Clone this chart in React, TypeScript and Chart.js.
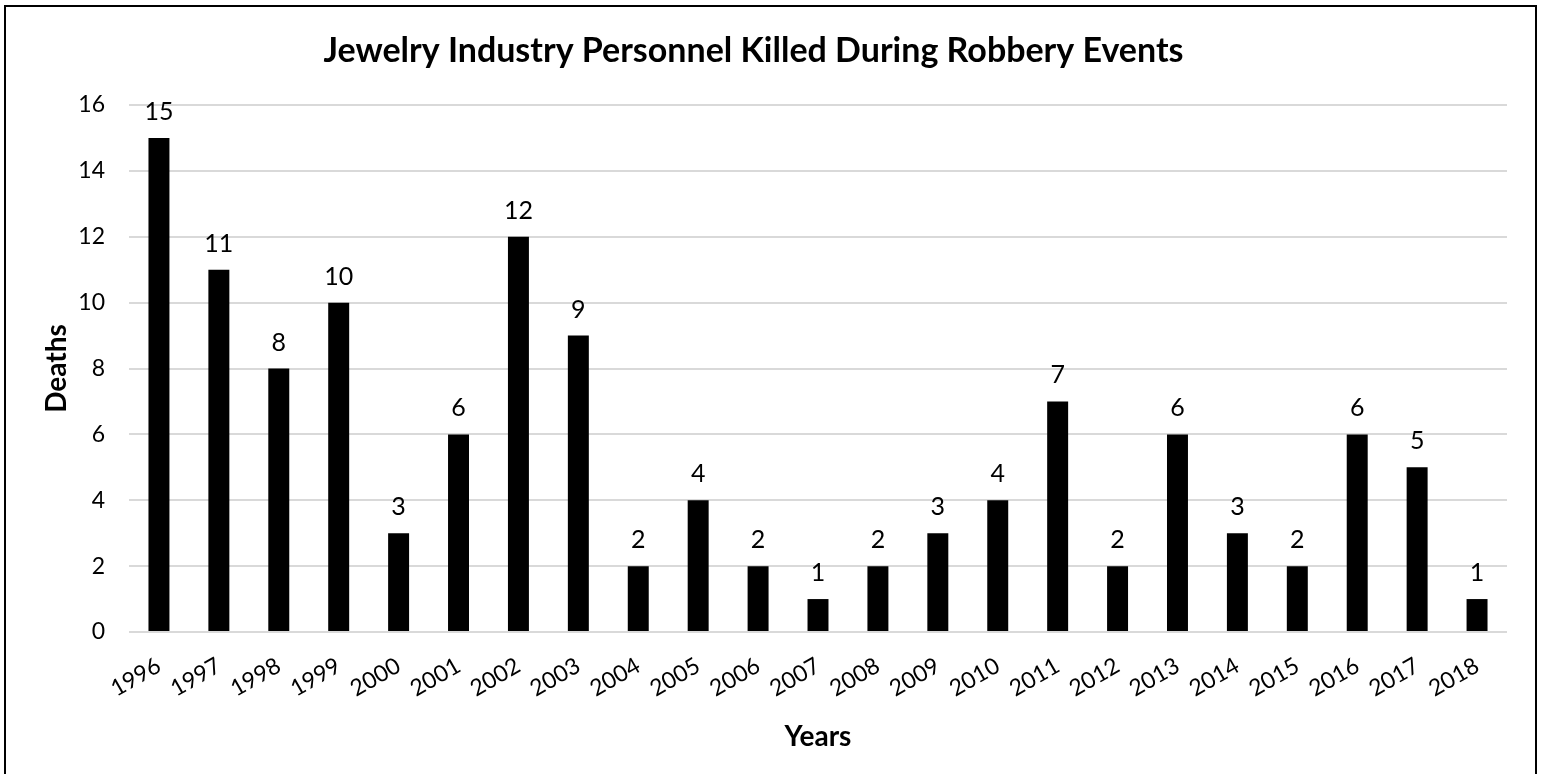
import React, { useEffect, useRef } from "react";
import { Chart, registerables } from "chart.js";

Chart.register(...registerables);

// Annual deaths of jewelry industry personnel in robbery events
const years = [
  "1996", "1997", "1998", "1999", "2000", "2001", "2002", "2003", "2004", "2005", "2006", "2007",
  "2008", "2009", "2010", "2011", "2012", "2013", "2014", "2015", "2016", "2017", "2018",
];
const deaths = [15, 11, 8, 10, 3, 6, 12, 9, 2, 4, 2, 1, 2, 3, 4, 7, 2, 6, 3, 2, 6, 5, 1];

const yMin = 0;
const yMax = 16;
const yStep = 2;

const FONT = "Lato, 'Open Sans', sans-serif";

// Writes each bar's value above it
const valueLabels = {
  id: "valueLabels",
  afterDatasetsDraw(chart: any) {
    const { ctx } = chart;
    const meta = chart.getDatasetMeta(0);
    const values = chart.data.datasets[0].data as number[];
    ctx.save();
    ctx.font = `25px ${FONT}`;
    ctx.fillStyle = "#000";
    ctx.textAlign = "center";
    ctx.textBaseline = "alphabetic";
    meta.data.forEach((bar: any, i: number) => {
      ctx.fillText(String(values[i]), bar.x, bar.y - 18);
    });
    ctx.restore();
  },
};

export default function App() {
  const canvasRef = useRef<HTMLCanvasElement | null>(null);

  useEffect(() => {
    const canvas = canvasRef.current;
    if (!canvas) return;
    const chart = new Chart(canvas, {
      type: "bar",
      data: {
        labels: years,
        datasets: [
          {
            data: deaths,
            backgroundColor: "#000",
            borderWidth: 0,
            barPercentage: 0.35,
            categoryPercentage: 1,
          },
        ],
      },
      options: {
        responsive: false,
        devicePixelRatio: 1,
        animation: false,
        layout: { padding: { left: 0, right: 36, top: 0, bottom: 0 } },
        plugins: {
          legend: { display: false },
          tooltip: { enabled: false },
          title: {
            display: true,
            text: "Jewelry Industry Personnel Killed During Robbery Events",
            color: "#000",
            font: { family: FONT, size: 34, weight: "bold" },
            padding: { top: 30.6, bottom: 33.6 },
          },
        },
        scales: {
          x: {
            grid: { display: false },
            border: { display: false },
            ticks: {
              color: "#000",
              font: { family: FONT, size: 23 },
              minRotation: 30,
              maxRotation: 30,
              autoSkip: false,
              padding: 12,
            },
            title: {
              display: true,
              text: "Years",
              color: "#000",
              font: { family: FONT, size: 28, weight: "bold" },
              padding: { top: 0, bottom: 20.2 },
            },
            afterFit(scale: any) {
              scale.height = 142;
            },
          },
          y: {
            min: yMin,
            max: yMax,
            grid: { color: "#d9d9d9", lineWidth: 2, drawTicks: false },
            border: { display: false },
            ticks: {
              stepSize: yStep,
              color: "#000",
              font: { family: FONT, size: 23 },
              padding: 24,
            },
            title: {
              display: true,
              text: "Deaths",
              color: "#000",
              font: { family: FONT, size: 28, weight: "bold" },
              padding: { top: 40.2, bottom: 0 },
            },
            afterFit(scale: any) {
              scale.width = 129;
            },
          },
        },
      },
      plugins: [valueLabels],
    });
    return () => chart.destroy();
  }, []);

  return (
    <div
      style={{
        position: "fixed",
        left: 0,
        top: 0,
        width: 1543,
        height: 774,
        overflow: "hidden",
        background: "#fff",
      }}
    >
      <canvas ref={canvasRef} width={1543} height={774} style={{ display: "block" }} />
      <div
        style={{
          position: "absolute",
          left: 4,
          top: 5,
          width: 1533,
          height: 800,
          border: "2px solid #000",
          boxSizing: "border-box",
          pointerEvents: "none",
        }}
      />
    </div>
  );
}
